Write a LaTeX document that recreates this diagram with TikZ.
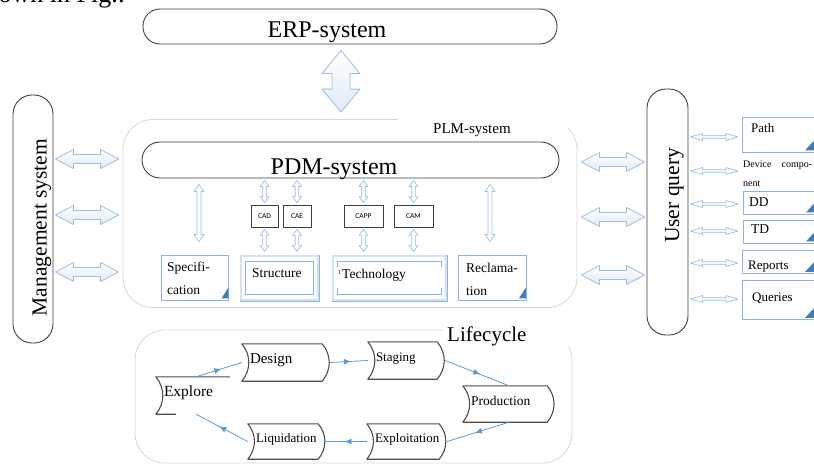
\documentclass[tikz,border=0pt]{standalone}
\usepackage{fontspec}
\setmainfont{Liberation Serif}
\newfontfamily\cadfont{Carlito}
\usetikzlibrary{calc,arrows.meta,decorations.markings}

\definecolor{pillline}{HTML}{3F3F3F}
\definecolor{paleframe}{HTML}{D6D6D6}
\definecolor{docline}{HTML}{8DB3E2}
\definecolor{docglow}{HTML}{D2E1F4}
\definecolor{cornerblue}{HTML}{3C7DC4}
\definecolor{flowblue}{HTML}{5B9BD5}
\definecolor{blockline}{HTML}{9DBDE3}
\definecolor{blockfill}{HTML}{E1EAF6}
\definecolor{tapegray}{HTML}{4D4D4D}

\newcommand\fsz[1]{\fontsize{#1}{#1}\selectfont}

\begin{document}
\begin{tikzpicture}[x=1pt, y=-1pt, line join=round,
  pill/.style={draw=pillline, line width=0.9pt, inner sep=0pt},
  frame/.style={draw=paleframe, line width=0.8pt, inner sep=0pt},
  doc/.style={draw=docline, line width=0.9pt, fill=white, inner sep=0pt},
  tool/.style={draw=pillline, line width=0.7pt, fill=white, inner sep=0pt, font=\cadfont\fsz{7.5}},
  txt/.style={inner sep=0pt, anchor=base west},
  tape/.style={inner xsep=8pt, inner ysep=0pt, text height=9pt, text depth=7pt, align=left},
  tapestroke/.style={draw=tapegray, line width=1.1pt},
  flow/.style={color=flowblue, line width=0.8pt, postaction=decorate,
    decoration={markings, mark=at position 0.55 with {\arrow{Latex[length=7pt,width=6pt]}}}},
  corner/.style={fill=cornerblue, draw=none},
  bigarrow/.style={draw=blockline, line width=0.8pt, top color=white, bottom color=blockfill},
  smallarrow/.style={draw=blockline, line width=0.7pt, fill=white},
  % horizontal double block arrow: head length, head half width, shaft half width
  hdbl/.style n args={3}{to path={let \p1=(\tikztostart), \p2=(\tikztotarget) in
    (\x1,\y1) -- ({\x1+#1},{\y1+#2}) -- ({\x1+#1},{\y1+#3}) -- ({\x2-#1},{\y1+#3})
    -- ({\x2-#1},{\y1+#2}) -- (\x2,\y1) -- ({\x2-#1},{\y1-#2}) -- ({\x2-#1},{\y1-#3})
    -- ({\x1+#1},{\y1-#3}) -- ({\x1+#1},{\y1-#2}) -- cycle}},
  % vertical double block arrow, start above target
  vdbl/.style n args={3}{to path={let \p1=(\tikztostart), \p2=(\tikztotarget) in
    (\x1,\y1) -- ({\x1+#2},{\y1-#1}) -- ({\x1+#3},{\y1-#1}) -- ({\x1+#3},{\y2+#1})
    -- ({\x1+#2},{\y2+#1}) -- (\x1,\y2) -- ({\x1-#2},{\y2+#1}) -- ({\x1-#3},{\y2+#1})
    -- ({\x1-#3},{\y1-#1}) -- ({\x1-#2},{\y1-#1}) -- cycle}},
]
\useasboundingbox (0,0) rectangle (814,466);
\clip (0,0) rectangle (814,466);

% last line of the running text above the figure
\node[txt, font=\fsz{26}] (prevline) at (-1.5,2.5) {own in Fig.:};

% pale containers and their captions
\node[frame, rounded corners=30pt, minimum width=454, minimum height=188] (plm) at (350,213.5) {};
\node[fill=white, inner sep=0pt, anchor=base west, text height=20pt, text depth=8pt,
      text width=170pt, align=left, font=\fsz{15}] (plmlabel) at (398,133) {\hspace*{35pt}PLM-system};
\node[frame, rounded corners=30pt, minimum width=437, minimum height=133] (life) at (353.5,396.5) {};
\node[fill=white, inner sep=0pt, anchor=base west, text height=19pt, text depth=6pt,
      text width=130pt, align=left, font=\fsz{21}] (lifelabel) at (443,341) {\hspace*{4pt}Lifecycle};

% system pills
\node[pill, rounded corners=17pt, minimum width=414, minimum height=35] (erp) at (350,26.5) {};
\node[txt, anchor=base, font=\fsz{24}] (erptext) at (327,37) {ERP-system};
\node[pill, rounded corners=18pt, minimum width=417, minimum height=36] (pdm) at (350.5,160) {};
\node[txt, anchor=base, font=\fsz{24}] (pdmtext) at (334,174) {PDM-system};
\node[pill, rounded corners=19pt, minimum width=40, minimum height=248] (mgmt) at (33,219) {};
\node[txt, rotate=90, anchor=base, font=\fsz{21.5}] (mgmttext) at (46.5,227.5) {Management system};
\node[pill, rounded corners=19pt, minimum width=41, minimum height=246] (userq) at (667.5,212) {};
\node[txt, rotate=90, anchor=base, font=\fsz{21.5}] (userqtext) at (679,195.5) {User query};

% block arrows between the systems
\draw[bigarrow, vdbl={23pt}{19pt}{9pt}] ($(erp.south)+(-9,6)$) to ($(plm.north)+(-9,-7)$);
\foreach \yy in {159,215,272}
  \draw[bigarrow, hdbl={18pt}{9.5pt}{4.5pt}] ($(mgmt.east |- 0,\yy)+(2,0)$) to ($(plm.west |- 0,\yy)+(-4,0)$);
\foreach \yy in {162,217,275}
  \draw[bigarrow, hdbl={18pt}{9.5pt}{4.5pt}] ($(plm.east |- 0,\yy)+(4,0)$) to ($(userq.west |- 0,\yy)+(-2,0)$);

% CAx tools
\node[tool, minimum width=27, minimum height=22] (cad) at (264.5,216) {CAD};
\node[tool, minimum width=28, minimum height=22] (cae) at (297,216) {CAE};
\node[tool, minimum width=39, minimum height=22] (capp) at (363.5,216) {CAPP};
\node[tool, minimum width=39, minimum height=22] (cam) at (413.5,216) {CAM};

% document boxes
\node[doc, minimum width=67, minimum height=45] (spec) at (195,277.5) {};
\node[txt, font=\fsz{13.5}] (spec1) at (167,271) {Specifi-};
\node[txt, font=\fsz{13.5}] (spec2) at (167,294) {cation};
\fill[corner] ($(spec.south east)+(-7.5,-2)$) -- ($(spec.south east)+(-0.5,-13)$) -- ($(spec.south east)+(-0.5,-2)$) -- cycle;

\node[doc, minimum width=79, minimum height=46] (structure) at (279.5,278) {};
\draw[docglow, line width=1.2pt] ($(structure.north west)+(1.5,1.5)$) rectangle ($(structure.south east)+(-1.5,-1.5)$);
\draw[docline, line width=0.8pt] ($(structure.north west)+(6,7)$) rectangle ($(structure.south east)+(-6,-7)$);
\node[txt, font=\fsz{13.5}] (structtext) at (252,277) {Structure};

\node[doc, minimum width=115, minimum height=46] (techno) at (389.5,278) {};
\draw[docglow, line width=1.2pt] ($(techno.north west)+(1.5,1.5)$) rectangle ($(techno.south east)+(-1.5,-1.5)$);
\draw[docline, line width=0.8pt] ($(techno.north west)+(6,7)$) rectangle ($(techno.south east)+(-6,-7)$);
\node[fill=white, inner sep=0pt, anchor=base west, text height=11pt, text depth=10pt,
      text width=110pt, align=left, font=\fsz{13.5}] (technotext) at (335,278)
      {\hspace*{3pt}\raisebox{4pt}{\fsz{6}1}\hspace{1pt}Technology};

\node[doc, minimum width=68, minimum height=45] (reclam) at (492,277.5) {};
\node[txt, font=\fsz{13.5}] (reclam1) at (466,272) {Reclama-};
\node[txt, font=\fsz{13.5}] (reclam2) at (466,295) {tion};
\fill[corner] ($(reclam.south east)+(-7.5,-2)$) -- ($(reclam.south east)+(-0.5,-13)$) -- ($(reclam.south east)+(-0.5,-2)$) -- cycle;

% links from the PDM system down to tools and documents
\draw[smallarrow, vdbl={7pt}{5pt}{2pt}] ($(pdm.south -| spec.north)+(4,6)$) to ($(spec.north)+(4,-13)$);
\draw[smallarrow, vdbl={7pt}{5pt}{2pt}] ($(pdm.south -| reclam.north)+(-2,6)$) to ($(reclam.north)+(-2,-13)$);
\foreach \t in {cad,cae,capp,cam}{
  \draw[smallarrow, vdbl={6pt}{4.5pt}{1.8pt}] ($(pdm.south -| \t.north)+(0,2)$) to ($(\t.north)+(0,-2)$);
  \draw[smallarrow, vdbl={6pt}{4.5pt}{1.8pt}] ($(\t.south)+(0,2)$) to ($(\t.south)+(0,24)$);
}

% query result boxes
\node[doc, anchor=west, minimum width=90, minimum height=35] (pathbox) at (742,134.5) {};
\node[txt, font=\fsz{13}] (pathtext) at (751,132) {Path};
\node[txt, text width=69pt, align=left, font=\fsz{10}] (devtext1) at (743,167.5) {Device\hfill compo-};
\node[txt, font=\fsz{10}] (devtext2) at (743,186) {nent};
\node[doc, anchor=west, minimum width=90, minimum height=23] (ddbox) at (743,202.5) {};
\node[txt, font=\fsz{13.5}] (ddtext) at (749,206) {DD};
\node[doc, anchor=west, minimum width=90, minimum height=23] (tdbox) at (743,231.5) {};
\node[txt, font=\fsz{13.5}] (tdtext) at (751,233) {TD};
\node[doc, anchor=west, minimum width=90, minimum height=23] (repbox) at (742,262) {};
\node[txt, font=\fsz{13}] (reptext) at (748,269.5) {Reports};
\node[doc, anchor=west, minimum width=90, minimum height=39] (querybox) at (742,300) {};
\node[txt, font=\fsz{13}] (querytext) at (752,301) {Queries};
\foreach \b in {pathbox,ddbox,tdbox,repbox,querybox}
  \fill[corner] ($(\b.south west)+(63,-2)$) -- ($(\b.south west)+(74,-14)$) -- ($(\b.south west)+(74,-2)$) -- cycle;

\foreach \yy in {137,171,204,231,263,299}
  \draw[smallarrow, hdbl={12pt}{3.5pt}{1.3pt}] ($(userq.east |- 0,\yy)+(2,0)$) to ($(pathbox.west |- 0,\yy)+(-4,0)$);

% lifecycle stages
\node[tape, minimum width=88, minimum height=37, text width=72, font=\fsz{15}] (design) at (286,362.5) {Design};
\node[tape, minimum width=77, minimum height=37, text width=61, font=\fsz{13}] (staging) at (406.5,360.5) {Staging};
\node[tape, minimum width=92, minimum height=36, text width=76, font=\fsz{13.5}] (production) at (509,404) {Production};
\node[tape, minimum width=80, minimum height=37, text width=64, font=\fsz{15.5}] (explore) at (196,395.5) {Explore};
\node[tape, minimum width=78, minimum height=35, text width=62, font=\fsz{13}] (liquidation) at (287,441.5) {Liquidation};
\node[tape, minimum width=80, minimum height=35, text width=64, font=\fsz{13}] (exploitation) at (407,441.5) {Exploitation};
\foreach \n in {design,staging,production,liquidation,exploitation}
  \draw[tapestroke] (\n.north west) -- ($(\n.north east)+(-8,0)$) to[bend left=40] ($(\n.south east)+(-8,0)$)
    -- (\n.south west) to[bend right=40] (\n.north west) -- cycle;
% the explore stage shows only its top edge, left side and the start of its bottom edge
\draw[tapestroke] ($(explore.south west)+(20,0)$) -- (explore.south west) to[bend right=40] (explore.north west)
  -- ($(explore.north east)+(-6,0)$);

\draw[flow] (explore.north) -- (design.west);
\draw[flow] (design.east) -- (staging.west);
\draw[flow] (staging.east) -- (production.north);
\draw[flow] (production.south) -- (exploitation.east);
\draw[flow] (exploitation.west) -- (liquidation.east);
\draw[flow] (liquidation.west) -- (explore.south);
\end{tikzpicture}
\end{document}
